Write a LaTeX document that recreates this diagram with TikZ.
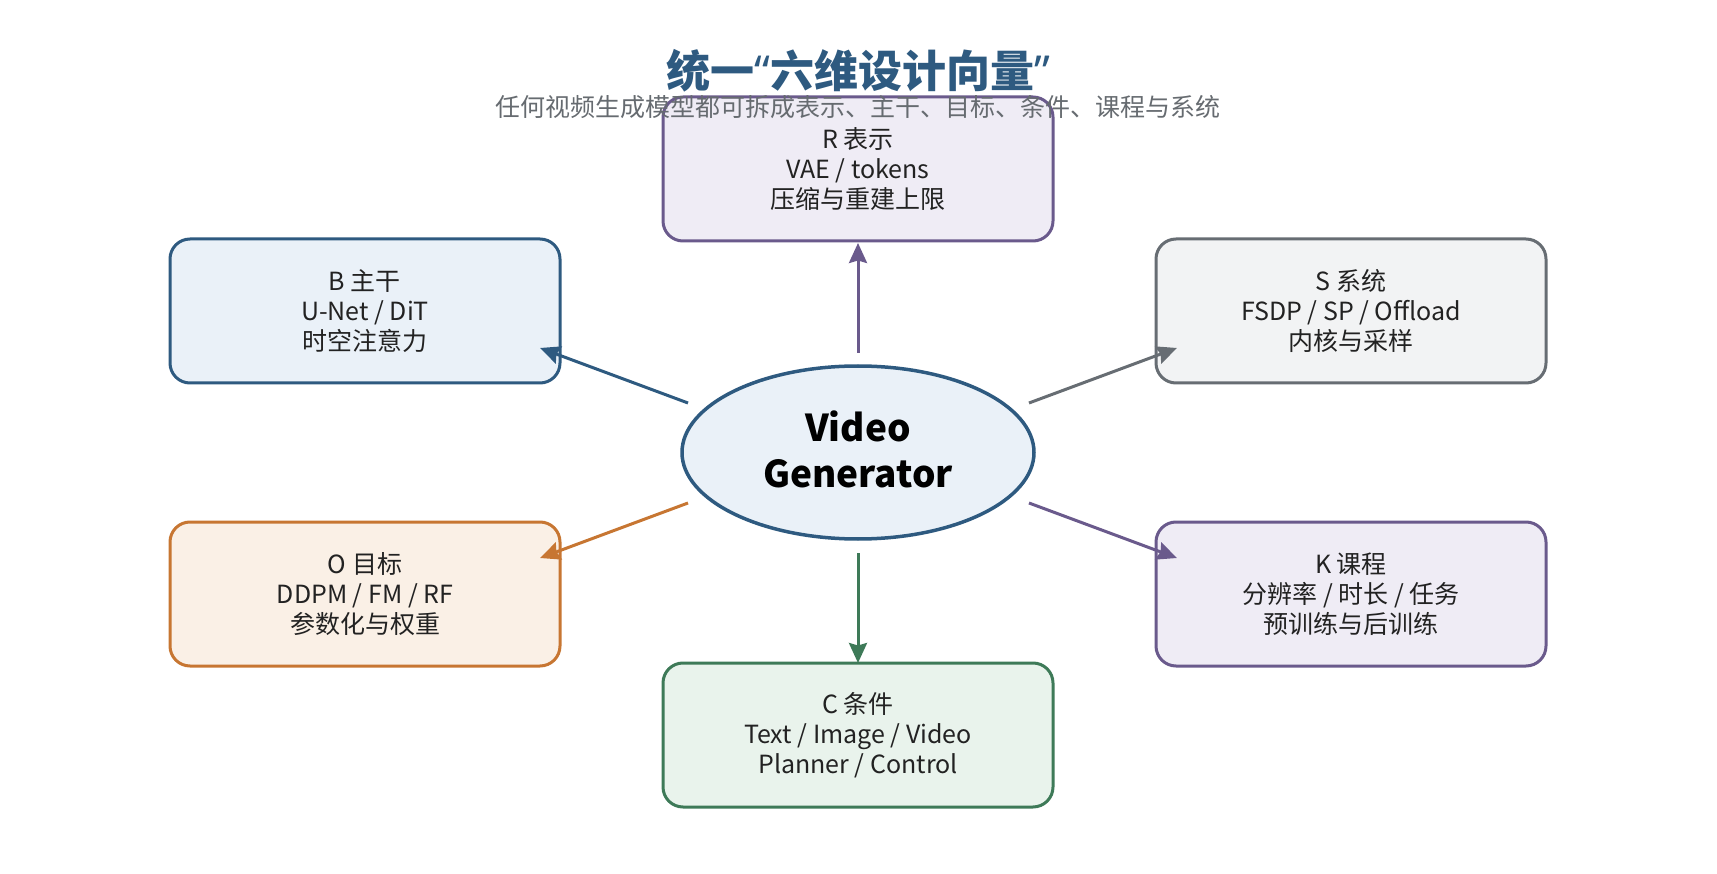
\documentclass[tikz,border=0pt]{standalone}
\usepackage{fontspec}
\setmainfont{Noto Sans CJK SC}
\newfontfamily\quotefont{Noto Sans}
\usetikzlibrary{arrows.meta,shapes.geometric}
\definecolor{cblue}{HTML}{2E5A80}
\definecolor{fblue}{HTML}{EAF1F8}
\definecolor{cpurp}{HTML}{6A5A8C}
\definecolor{fpurp}{HTML}{EFECF5}
\definecolor{cgray}{HTML}{676D73}
\definecolor{fgray}{HTML}{F2F3F4}
\definecolor{corng}{HTML}{C77632}
\definecolor{forng}{HTML}{FAF0E6}
\definecolor{cgrn}{HTML}{3E7A58}
\definecolor{fgrn}{HTML}{E9F3EC}
\definecolor{ctext}{HTML}{222222}
\definecolor{csub}{HTML}{666B70}
\begin{document}
\begin{tikzpicture}[x=1pt,y=-1pt,
  box/.style={draw, line width=3pt, rounded corners=20pt, minimum width=390pt, minimum height=144pt,
    inner sep=0pt, align=center, text=ctext, font=\fontsize{25pt}{30pt}\selectfont},
  conn/.style={line width=3pt, -{Stealth[length=20pt,width=18pt,inset=2.5pt]}}
]
\useasboundingbox (0,0) rectangle (1717,874);
\node[text=cblue, font=\fontsize{44pt}{50pt}\selectfont\bfseries] (title) at (858,71) {统一{\quotefont\bfseries “}六维设计向量{\quotefont\bfseries ”}};
\node[box, fill=fpurp, draw=cpurp] (R) at (858,169) {R 表示\\VAE / tokens\\压缩与重建上限};
\node[text=csub, font=\fontsize{25pt}{30pt}\selectfont] (sub) at (858,107) {任何视频生成模型都可拆成表示、主干、目标、条件、课程与系统};
\node[box, fill=fblue, draw=cblue] (B) at (365,311) {B 主干\\U-Net / DiT\\时空注意力};
\node[box, fill=fgray, draw=cgray] (S) at (1351,311) {S 系统\\FSDP / SP / Offload\\内核与采样};
\node[box, fill=forng, draw=corng] (O) at (365,594) {O 目标\\DDPM / FM / RF\\参数化与权重};
\node[box, fill=fpurp, draw=cpurp] (K) at (1351,594) {K 课程\\分辨率 / 时长 / 任务\\预训练与后训练};
\node[box, fill=fgrn, draw=cgrn] (C) at (858,735) {C 条件\\Text / Image / Video\\Planner / Control};
\node[ellipse, draw=cblue, fill=fblue, line width=3.5pt, minimum width=352pt, minimum height=173pt,
  inner sep=0pt] (G) at (858,452.5) {};
\node[align=center, inner sep=0pt, font=\fontsize{37pt}{46pt}\selectfont\bfseries] (Gt) at ([yshift=3pt]G.center) {Video\\Generator};
\coordinate (gR) at (858,353);
\coordinate (tR) at (858,243);
\coordinate (gB) at (688,403);
\coordinate (tB) at (540,348);
\coordinate (gS) at (1029,403);
\coordinate (tS) at (1177,348);
\coordinate (gO) at (688,503);
\coordinate (tO) at (540,558);
\coordinate (gK) at (1029,503);
\coordinate (tK) at (1177,558);
\coordinate (gC) at (858,553);
\coordinate (tC) at (858,663);
\draw[conn, draw=cpurp, fill=cpurp] (gR) -- (tR);
\draw[conn, draw=cblue, fill=cblue] (gB) -- (tB);
\draw[conn, draw=cgray, fill=cgray] (gS) -- (tS);
\draw[conn, draw=corng, fill=corng] (gO) -- (tO);
\draw[conn, draw=cpurp, fill=cpurp] (gK) -- (tK);
\draw[conn, draw=cgrn, fill=cgrn] (gC) -- (tC);
\end{tikzpicture}
\end{document}
